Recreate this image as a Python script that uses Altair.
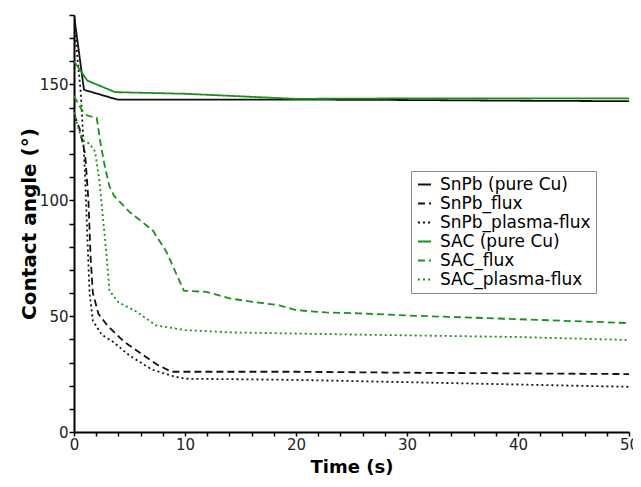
import altair as alt
import pandas as pd

series_names = ["SnPb (pure Cu)", "SnPb_flux", "SnPb_plasma-flux",
                "SAC (pure Cu)", "SAC_flux", "SAC_plasma-flux"]
series_colors = ["#111111", "#111111", "#111111", "#1c8f1c", "#1c8f1c", "#1c8f1c"]
series_dashes = [[1, 0], [7, 4], [2, 3], [1, 0], [7, 4], [2, 3]]

snpb_cu_t = [0, 0.9, 3.9, 10, 20, 30, 40, 50]
snpb_cu_v = [180, 147.7, 143.5, 143.5, 143.5, 143.3, 143.0, 142.8]

snpb_flux_t = [0, 0.5, 1.0, 1.3, 1.5, 1.7, 2.2, 3.0, 4.5, 6.0, 7.5, 8.8, 20, 30, 40, 50]
snpb_flux_v = [137, 131, 120, 100, 75, 60, 51, 46, 39, 34, 29, 26, 26, 25.6, 25.3, 25]

snpb_pf_t = [0, 0.3, 0.6, 0.8, 1.0, 1.2, 1.4, 1.7, 2.5, 3.5, 5.0, 7.0, 9.0, 10, 20, 30, 40, 50]
snpb_pf_v = [180, 162, 147, 130, 110, 85, 60, 48, 42, 39, 33, 27, 24, 23, 22.5, 21.5, 20.5, 19.5]

sac_cu_t = [0, 1.2, 3.7, 10, 20, 30, 40, 50]
sac_cu_v = [160, 151.7, 146.7, 146, 143.8, 144, 144, 144]

sac_flux_t = [0, 0.7, 1.2, 2.05, 2.4, 2.8, 3.2, 3.6, 5.0, 7.1, 8.3, 9.9, 11.9, 14.1, 16.1,
              18.5, 20, 22.7, 25.7, 30, 40, 50]
sac_flux_v = [145, 139, 136.6, 135.6, 124.4, 114, 106, 102, 95, 87, 78, 61, 60.5, 57.6, 56.2,
              54.7, 52.6, 51.6, 51.2, 50.3, 48.7, 47]

sac_pf_t = [0, 0.7, 1.4, 1.9, 2.3, 2.6, 2.9, 3.2, 4.0, 5.6, 7.4, 10, 14, 26, 40, 50]
sac_pf_v = [138, 126, 124.5, 121, 108, 93, 78, 61, 56, 52, 46, 44, 43, 42, 41, 39.7]

all_t = [snpb_cu_t, snpb_flux_t, snpb_pf_t, sac_cu_t, sac_flux_t, sac_pf_t]
all_v = [snpb_cu_v, snpb_flux_v, snpb_pf_v, sac_cu_v, sac_flux_v, sac_pf_v]

rows = []
for name, ts, vs in zip(series_names, all_t, all_v):
    for i, (t, v) in enumerate(zip(ts, vs)):
        rows.append({"series": name, "t": t, "v": v, "i": i})
df = pd.DataFrame(rows)

x_ticks = list(range(0, 51, 2))
y_ticks = list(range(0, 181, 10))

font = "DejaVu Sans"

chart = alt.Chart(df).mark_line(strokeWidth=1.8, clip=True).encode(
    x=alt.X("t:Q", scale=alt.Scale(domain=[0, 50], nice=False, zero=False),
            axis=alt.Axis(title="Time (s)", values=x_ticks,
                          labelExpr="datum.value % 10 === 0 ? datum.label : ''",
                          grid=False, domainColor="#000", domainWidth=2,
                          tickColor="#000", tickWidth=1.5, tickSize=4,
                          labelFont=font, labelFontSize=15, labelColor="#222",
                          labelPadding=1, labelFlush=False,
                          titleFont=font, titleFontSize=18, titleFontWeight="bold",
                          titleColor="#000", titlePadding=6)),
    y=alt.Y("v:Q", scale=alt.Scale(domain=[0, 180], nice=False),
            axis=alt.Axis(title="Contact angle (°)", values=y_ticks,
                          labelExpr="datum.value % 50 === 0 ? datum.label : ''",
                          grid=False, domainColor="#000", domainWidth=2,
                          tickColor="#000", tickWidth=1.5, tickSize=5,
                          labelFont=font, labelFontSize=15, labelColor="#222",
                          labelPadding=1, labelFlush=False,
                          titleFont=font, titleFontSize=20, titleFontWeight="bold",
                          titleColor="#000", titlePadding=0)),
    color=alt.Color("series:N", scale=alt.Scale(domain=series_names, range=series_colors),
                    legend=alt.Legend(title=None, orient="none", legendX=337, legendY=156,
                                      symbolType="stroke", symbolSize=170, symbolStrokeWidth=1.8,
                                      labelFont=font, labelFontSize=17, labelColor="#000",
                                      labelOffset=7, rowPadding=1,
                                      padding=5, strokeColor="#888", fillColor="#fff",
                                      labelLimit=300)),
    strokeDash=alt.StrokeDash("series:N", scale=alt.Scale(domain=series_names, range=series_dashes),
                              legend=alt.Legend(title=None)),
    order="i:Q",
).properties(
    width=555, height=417,
    autosize=alt.AutoSizeParams(type="none"),
    padding={"left": 66, "top": 7, "right": 0, "bottom": 44},
).configure(background="#ffffff").configure_view(strokeWidth=0, stroke="transparent")

chart.save("out.html", embed_options={"renderer": "svg", "actions": False,
                                      "defaultStyle": "svg { overflow: visible; }"})
